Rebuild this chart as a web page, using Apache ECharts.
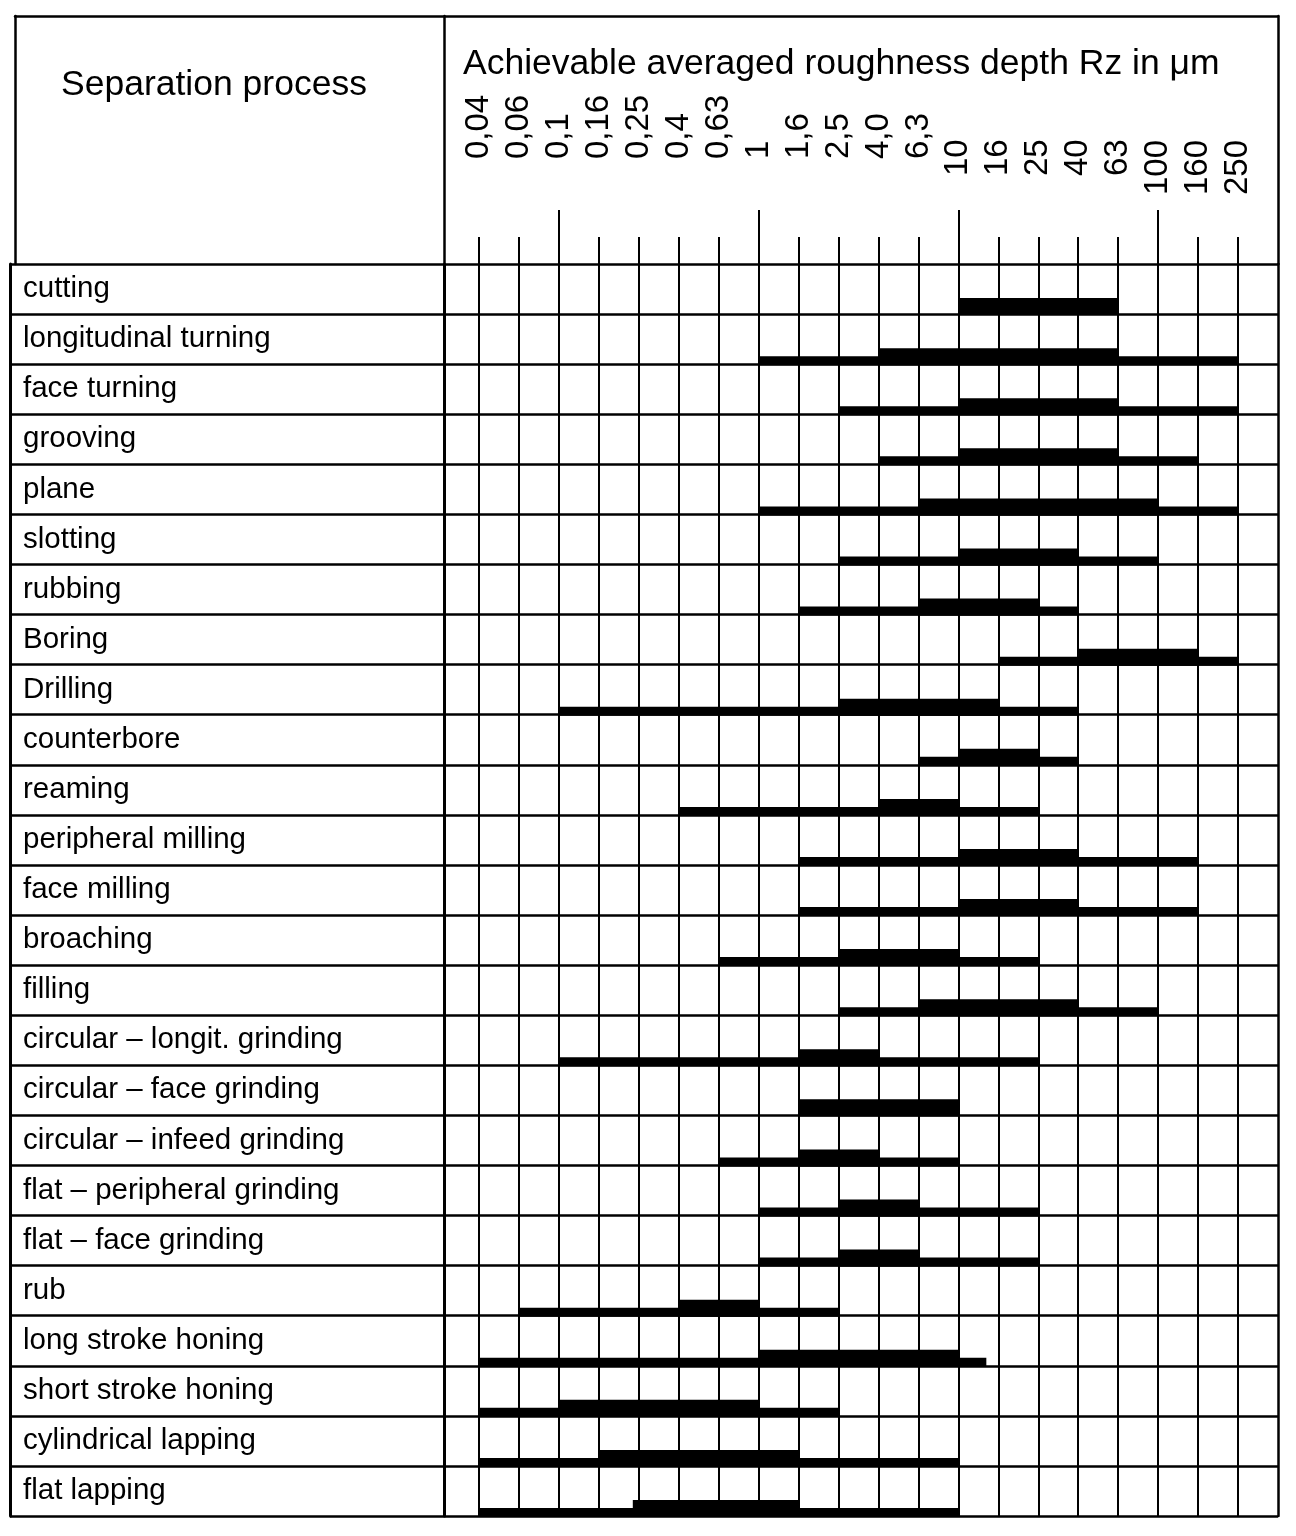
<!DOCTYPE html>
<html>
<head>
<meta charset="utf-8">
<script src="https://cdn.jsdelivr.net/npm/echarts@6/dist/echarts.min.js"></script>
<style>
html,body{margin:0;padding:0;background:#fff;}
#chart{width:1296px;height:1536px;}
</style>
</head>
<body>
<div id="chart"></div>
<script>
// ---- DATA ----
const processes = [
  'cutting', 'longitudinal turning', 'face turning', 'grooving', 'plane',
  'slotting', 'rubbing', 'Boring', 'Drilling', 'counterbore', 'reaming',
  'peripheral milling', 'face milling', 'broaching', 'filling',
  'circular – longit. grinding', 'circular – face grinding',
  'circular – infeed grinding', 'flat – peripheral grinding',
  'flat – face grinding', 'rub', 'long stroke honing', 'short stroke honing',
  'cylindrical lapping', 'flat lapping'
];
// Rz tick labels (ordinal roughness scale)
const tickLabels = ['0,04','0,06','0,1','0,16','0,25','0,4','0,63','1','1,6','2,5',
                    '4,0','6,3','10','16','25','40','63','100','160','250'];
// Achievable range (thin line), as positions on the ordinal Rz scale (0 = 0,04 ... 19 = 250)
const achievableFrom = [12, 7, 9, 10, 7, 9, 8, 13, 2, 11, 5, 8, 8, 6, 9, 2, 8, 6, 7, 7, 1, 0, 0, 0, 0];
const achievableTo   = [16, 19, 19, 18, 19, 17, 15, 19, 15, 15, 14, 18, 18, 14, 17, 14, 12, 12, 14, 14, 9, 12.7, 9, 12, 12];
// Usual range (thick bar)
const usualFrom = [12, 10, 12, 12, 11, 12, 11, 15, 9, 12, 10, 12, 12, 9, 11, 8, 8, 8, 9, 9, 5, 7, 2, 3, 3.85];
const usualTo   = [16, 16, 16, 16, 17, 15, 14, 18, 13, 14, 12, 15, 15, 12, 15, 10, 12, 10, 11, 11, 7, 12, 7, 8, 8];

// ---- CHART ----
const FONT = 'Liberation Sans';
const BLACK = '#000';
const chart = echarts.init(document.getElementById('chart'), null, {renderer: 'canvas'});

function barRenderer(h) {
  return function (params, api) {
    const from = api.value(0), to = api.value(1), row = api.value(2);
    const p0 = api.coord([from, row]);
    const p1 = api.coord([to, row]);
    const band = api.size([0, 1])[1];
    const bottom = p0[1] + band / 2;
    return {
      type: 'rect',
      shape: {x: p0[0], y: bottom - h, width: p1[0] - p0[0], height: h + 1},
      style: {fill: BLACK}
    };
  };
}

const hiddenValue = (grid) => ({type: 'value', gridIndex: grid, min: 0, max: 1, show: false});
const lineOnly = (grid, pos, width) => ({
  type: 'value', gridIndex: grid, position: pos, min: 0, max: 1,
  axisLine: {show: true, onZero: false, lineStyle: {color: BLACK, width: width}},
  axisTick: {show: false}, axisLabel: {show: false}, splitLine: {show: false}
});
const catTop = (labelFilter, margin, tick) => ({
  type: 'category', gridIndex: 0, position: 'top', data: tickLabels, boundaryGap: false,
  axisLine: {show: false, onZero: false},
  axisTick: tick,
  axisLabel: {
    rotate: -90, margin: margin, interval: (i) => labelFilter(i),
    fontSize: 33, color: BLACK, fontFamily: FONT
  },
  splitLine: {show: false}
});

const option = {
  animation: false,
  backgroundColor: '#fff',
  title: [
    {text: 'Separation process', left: 61, top: 67, padding: 0,
     textStyle: {fontSize: 35.5, fontWeight: 'normal', color: BLACK, fontFamily: FONT}},
    {text: 'Achievable averaged roughness depth Rz in μm', left: 463, top: 46, padding: 0,
     textStyle: {fontSize: 35.5, fontWeight: 'normal', color: BLACK, fontFamily: FONT}}
  ],
  grid: [
    {left: 479, right: 58, top: 264, bottom: 20, containLabel: false, outerBoundsMode: 'none'},
    {left: 10, right: 18, top: 264, bottom: 20, containLabel: false, outerBoundsMode: 'none'},
    {left: 15, right: 18, top: 16, bottom: 1272, containLabel: false, outerBoundsMode: 'none'},
    {left: 444, right: 18, top: 16, bottom: 1272, containLabel: false, outerBoundsMode: 'none'}
  ],
  xAxis: [
    Object.assign(catTop((i) => i <= 11, 105,
      {show: true, interval: 0, length: 27, lineStyle: {color: BLACK, width: 2}}),
      {splitLine: {show: true, interval: 0, lineStyle: {color: BLACK, width: 2}}}),
    catTop((i) => i >= 12 && i <= 16, 88,
      {show: true, interval: (i) => i % 5 === 2, length: 54, lineStyle: {color: BLACK, width: 2}}),
    catTop((i) => i >= 17, 69, {show: false}),
    {type: 'value', gridIndex: 0, min: 0, max: 19, show: false},
    hiddenValue(1),
    lineOnly(2, 'top', 2.5),
    hiddenValue(3)
  ],
  yAxis: [
    {type: 'category', gridIndex: 0, data: processes, inverse: true, position: 'left', offset: 35,
     axisLine: {show: true, onZero: false, lineStyle: {color: BLACK, width: 3}},
     axisTick: {show: false}, axisLabel: {show: false}, splitLine: {show: false}},
    {type: 'category', gridIndex: 1, data: processes, inverse: true, position: 'left',
     axisLine: {show: true, onZero: false, lineStyle: {color: BLACK, width: 3}},
     axisTick: {show: false},
     axisLabel: {show: true, inside: true, margin: 13, align: 'left', interval: 0,
                 fontSize: 29.5, color: BLACK, fontFamily: FONT},
     splitLine: {show: true, interval: 0, lineStyle: {color: BLACK, width: 2.5}}},
    lineOnly(1, 'right', 2.5),
    lineOnly(2, 'left', 2.5),
    lineOnly(2, 'right', 2.5),
    lineOnly(3, 'left', 2.5)
  ],
  series: [
    {
      name: 'achievable', type: 'custom', coordinateSystem: 'cartesian2d',
      xAxisIndex: 3, yAxisIndex: 0, silent: true,
      encode: {x: [0, 1], y: 2},
      data: processes.map((p, i) => [achievableFrom[i], achievableTo[i], i]),
      renderItem: barRenderer(8)
    },
    {
      name: 'usual', type: 'custom', coordinateSystem: 'cartesian2d',
      xAxisIndex: 3, yAxisIndex: 0, silent: true,
      encode: {x: [0, 1], y: 2},
      data: processes.map((p, i) => [usualFrom[i], usualTo[i], i]),
      renderItem: barRenderer(16)
    }
  ]
};
chart.setOption(option);
</script>
</body>
</html>
